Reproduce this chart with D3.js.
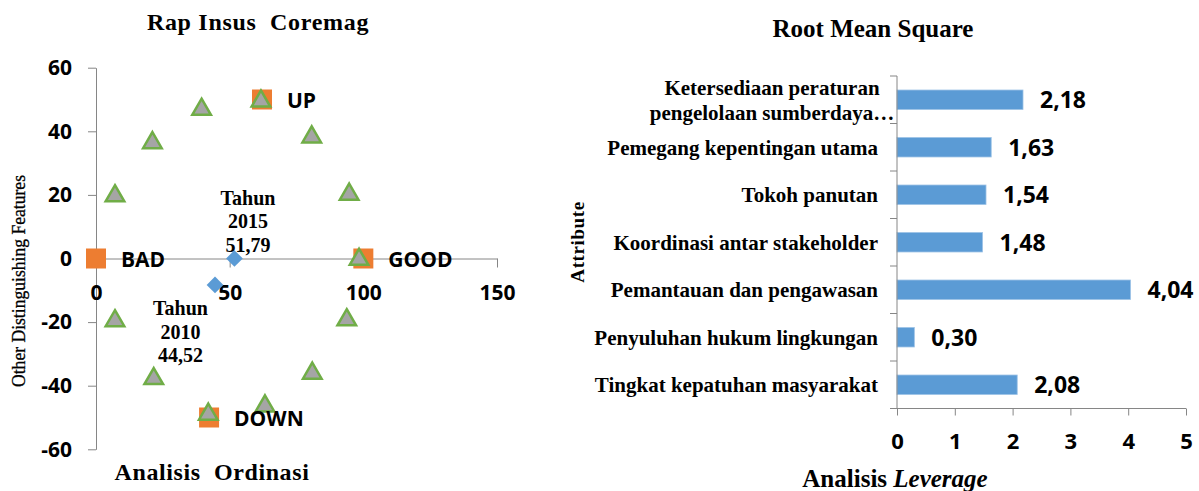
<!DOCTYPE html>
<html>
<head>
<meta charset="utf-8">
<script src="https://cdn.jsdelivr.net/npm/d3@7"></script>
<style>
  body { margin: 0; background: #fff; }
  svg { display: block; }
  .serif { font-family: "Liberation Serif", "Times New Roman", serif; font-weight: bold; fill: #000; }
  .sans { font-family: "Open Sans", "Liberation Sans", sans-serif; font-weight: bold; fill: #000; }
  .axis path, .axis line { stroke: #868686; }
</style>
</head>
<body>
<div id="chart"></div>
<script>
// ---- data: ordination (left) ----
const triangleX = [7.1, 21.1, 39.5, 61.7, 80.7, 94.7, 98.4, 93.8, 80.9, 63.2, 42.0, 21.6, 7.1];
const triangleY = [20.0, 36.7, 47.2, 49.8, 38.5, 20.5, 0, -19.0, -35.8, -46.1, -48.7, -37.5, -19.3];

const anchorNames = ['BAD', 'GOOD', 'UP', 'DOWN'];
const anchorX = [0, 100, 62.1, 42.3];
const anchorY = [0, 0, 50, -50];

const yearNames = ['2015', '2010'];
const yearX = [51.79, 44.52];
const yearY = [0, -8.3];
const yearText = ['51,79', '44,52'];

const scatterXTicks = [0, 50, 100, 150];
const scatterYTicks = [-60, -40, -20, 0, 20, 40, 60];

// ---- data: leverage (right) ----
const attributes = [
    'Ketersediaan peraturan\npengelolaan sumberdaya\u2026',
    'Pemegang kepentingan utama',
    'Tokoh panutan',
    'Koordinasi antar stakeholder',
    'Pemantauan dan pengawasan',
    'Penyuluhan hukum lingkungan',
    'Tingkat kepatuhan masyarakat'
];
const rmsValues = [2.18, 1.63, 1.54, 1.48, 4.04, 0.30, 2.08];
const rmsTicks = [0, 1, 2, 3, 4, 5];

const fmtComma = d => d3.format('.2f')(d).replace('.', ',');

const svg = d3.select('#chart')
    .append('svg')
    .attr('width', 1199)
    .attr('height', 491);

// ================= left: Rap Insus Coremag =================
function drawOrdination() {
    const x = d3.scaleLinear().domain([0, 150]).range([96, 497]);
    const y = d3.scaleLinear().domain([-60, 60]).range([449.3, 67.7]);
    const g = svg.append('g');

    g.append('g')
        .attr('class', 'axis')
        .attr('transform', `translate(${x(0)},0)`)
        .call(d3.axisLeft(y).tickValues(scatterYTicks).tickFormat(d => String(d))
            .tickSize(8).tickPadding(16).tickSizeOuter(0))
        .call(a => a.selectAll('text').attr('class', 'sans').style('font-size', '21px'));

    g.append('g')
        .attr('class', 'axis')
        .attr('transform', `translate(0,${y(0)})`)
        .call(d3.axisBottom(x).tickValues(scatterXTicks).tickSize(9).tickPadding(18).tickSizeOuter(0))
        .call(a => a.selectAll('text').attr('class', 'sans').style('font-size', '21px'));

    // blue diamonds (years)
    g.selectAll('.year')
        .data(yearX)
        .join('path')
        .attr('d', d3.symbol(d3.symbolSquare, 140))
        .attr('transform', (d, i) => `translate(${x(d)},${y(yearY[i])}) rotate(45)`)
        .attr('fill', '#5B9BD5');

    // orange squares (reference anchors)
    g.selectAll('.anchor')
        .data(anchorX)
        .join('path')
        .attr('d', d3.symbol(d3.symbolSquare, 400))
        .attr('transform', (d, i) => `translate(${x(d)},${y(anchorY[i])})`)
        .attr('fill', '#ED7D31');

    // grey triangles
    g.selectAll('.tri')
        .data(triangleX)
        .join('path')
        .attr('d', d3.symbol(d3.symbolTriangle, 150))
        .attr('transform', (d, i) => `translate(${x(d)},${y(triangleY[i]) + 1})`)
        .attr('fill', '#A5A5A5')
        .attr('stroke', '#70AD47')
        .attr('stroke-width', 2.5);

    // anchor labels
    g.selectAll('.anchorLabel')
        .data(anchorNames)
        .join('text')
        .attr('class', 'sans')
        .style('font-size', '21px')
        .attr('x', (d, i) => x(anchorX[i]) + 25)
        .attr('y', (d, i) => y(anchorY[i]) + 1)
        .attr('dy', '0.36em')
        .text(d => d);

    // year labels
    const yearLabelPos = [[248, 198], [180.5, 308.3]];
    yearNames.forEach((yr, i) => {
        const t = g.append('text')
            .attr('class', 'serif')
            .style('font-size', '20px')
            .attr('text-anchor', 'middle');
        ['Tahun', yr, yearText[i]].forEach((line, j) => {
            t.append('tspan')
                .attr('x', yearLabelPos[i][0])
                .attr('y', yearLabelPos[i][1] + j * 23.4)
                .attr('dy', '0.35em')
                .text(line);
        });
    });

    // titles
    g.append('text').attr('class', 'serif')
        .style('font-size', '24px').style('letter-spacing', '0.7px')
        .attr('x', 258).attr('y', 22).attr('dy', '0.35em')
        .attr('text-anchor', 'middle')
        .attr('xml:space', 'preserve')
        .text('Rap Insus  Coremag');

    g.append('text').attr('class', 'serif')
        .style('font-size', '24px').style('letter-spacing', '0.6px')
        .attr('x', 212).attr('y', 472).attr('dy', '0.35em')
        .attr('text-anchor', 'middle')
        .attr('xml:space', 'preserve')
        .text('Analisis  Ordinasi');

    g.append('text').attr('class', 'serif')
        .style('font-size', '19px').style('font-weight', 'normal')
        .style('stroke', '#000').style('stroke-width', 0.3)
        .attr('transform', 'translate(18,281) rotate(-90)')
        .attr('dy', '0.35em')
        .attr('text-anchor', 'middle')
        .attr('textLength', 212)
        .attr('lengthAdjust', 'spacingAndGlyphs')
        .text('Other Distinguishing Features');
}

// ================= right: Root Mean Square =================
function drawLeverage() {
    const x = d3.scaleLinear().domain([0, 5]).range([897, 1186]);
    const y = d3.scaleBand().domain(attributes).range([76, 408.5])
        .paddingInner(0.59).paddingOuter(0.295);
    const g = svg.append('g');

    g.selectAll('.bar')
        .data(rmsValues)
        .join('rect')
        .attr('x', x(0))
        .attr('y', (d, i) => y(attributes[i]))
        .attr('width', d => x(d) - x(0))
        .attr('height', y.bandwidth())
        .attr('fill', '#5B9BD5')
        .attr('stroke', '#9DC3E6')
        .attr('stroke-width', 0.8);

    g.selectAll('.val')
        .data(rmsValues)
        .join('text')
        .attr('class', 'sans')
        .style('font-size', '23px')
        .attr('x', d => x(d) + 17)
        .attr('y', (d, i) => y(attributes[i]) + y.bandwidth() / 2)
        .attr('dy', '0.36em')
        .text(d => fmtComma(d));

    // category axis
    const [y0, y1] = y.range();
    const ax = g.append('g').attr('class', 'axis');
    ax.append('line').attr('x1', x(0)).attr('x2', x(0)).attr('y1', y0).attr('y2', y1);
    d3.range(attributes.length + 1).forEach(i => {
        ax.append('line')
            .attr('x1', x(0) - 7).attr('x2', x(0))
            .attr('y1', y0 + i * y.step()).attr('y2', y0 + i * y.step());
    });

    attributes.forEach(a => {
        const lines = a.split('\n');
        const cy = y(a) + y.bandwidth() / 2;
        const t = g.append('text')
            .attr('class', 'serif')
            .style('font-size', '21px');
        if (lines.length === 1) {
            t.attr('text-anchor', 'end')
                .attr('x', 878).attr('y', cy).attr('dy', '0.35em')
                .text(a);
        } else {
            t.attr('text-anchor', 'middle');
            lines.forEach((line, j) => {
                t.append('tspan')
                    .attr('x', 772)
                    .attr('y', cy + (j - (lines.length - 1) / 2) * 25)
                    .attr('dy', '0.35em')
                    .text(line);
            });
        }
    });

    g.append('g')
        .attr('class', 'axis')
        .attr('transform', `translate(0,${y1})`)
        .call(d3.axisBottom(x).tickValues(rmsTicks).tickFormat(d3.format('d'))
            .tickSize(7).tickPadding(18.3).tickSizeOuter(0))
        .call(a => a.select('.domain').remove())
        .call(a => a.selectAll('text').attr('class', 'sans').style('font-size', '22px'));
    g.append('line')
        .attr('x1', x(0)).attr('x2', x(5)).attr('y1', y1).attr('y2', y1)
        .attr('stroke', '#868686');

    // titles
    g.append('text').attr('class', 'serif')
        .style('font-size', '25px')
        .attr('x', 873).attr('y', 28.5).attr('dy', '0.35em')
        .attr('text-anchor', 'middle')
        .text('Root Mean Square');

    const xt = g.append('text').attr('class', 'serif')
        .style('font-size', '25px')
        .attr('x', 895).attr('y', 478).attr('dy', '0.35em')
        .attr('text-anchor', 'middle');
    xt.append('tspan').text('Analisis ');
    xt.append('tspan').style('font-style', 'italic').text('Leverage');

    g.append('text').attr('class', 'serif')
        .style('font-size', '19px').style('letter-spacing', '0.6px')
        .attr('transform', 'translate(577,242) rotate(-90)')
        .attr('dy', '0.35em')
        .attr('text-anchor', 'middle')
        .text('Attribute');
}

drawOrdination();
drawLeverage();
</script>
</body>
</html>
